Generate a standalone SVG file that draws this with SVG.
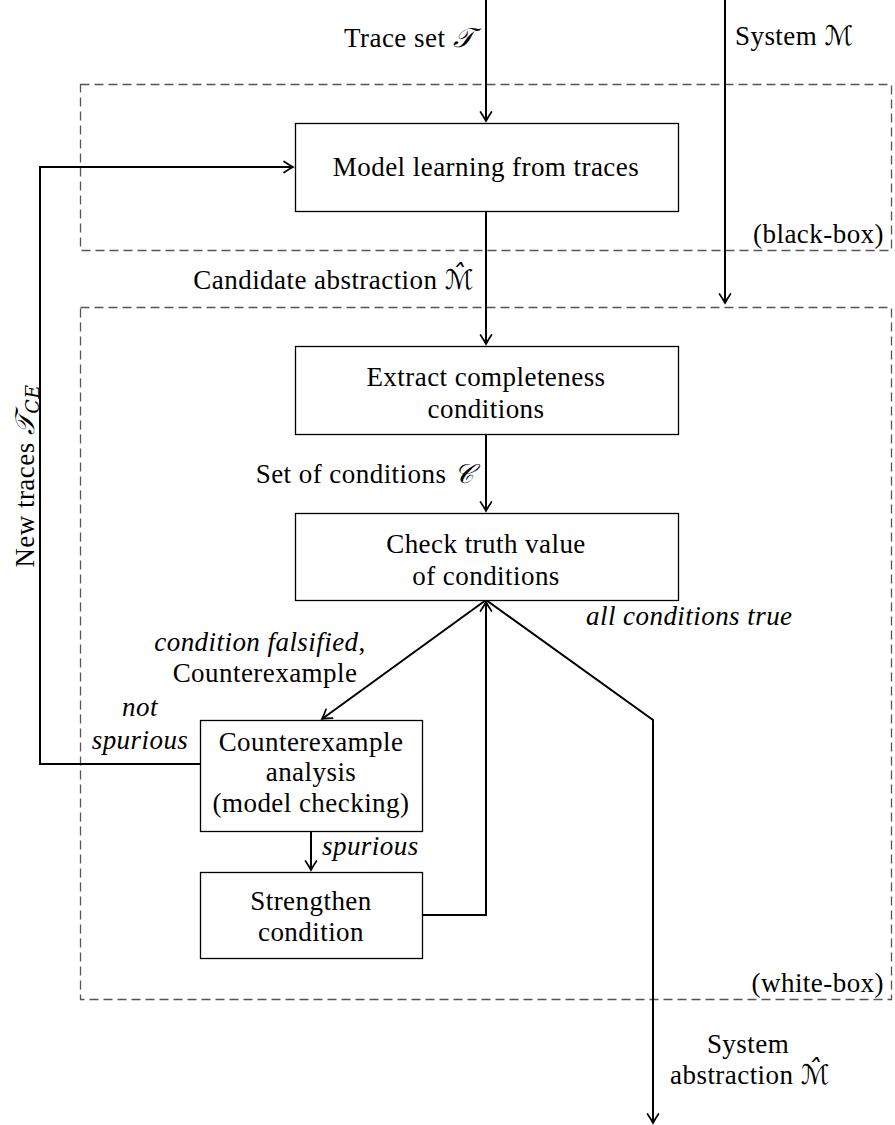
<svg xmlns="http://www.w3.org/2000/svg" width="895" height="1125" viewBox="0 0 895 1125">
<defs>
<marker id="arr" markerWidth="14" markerHeight="14" viewBox="-11 -7 13 14" refX="0" refY="0" orient="auto" markerUnits="userSpaceOnUse">
<path d="M-9,-5.5 Q-3.5,-1.8 0,0 Q-3.5,1.8 -9,5.5" fill="none" stroke="#000" stroke-width="1.7" stroke-linecap="round"/>
</marker>
<style>
text{font-family:"Liberation Serif","DejaVu Serif",serif;font-size:27px;letter-spacing:0.45px;fill:#000}
.it{font-style:italic}
.m{text-anchor:middle}
.e{text-anchor:end}
.box{fill:#fff;stroke:#000;stroke-width:1.3}
.dash{fill:none;stroke:#555;stroke-width:1.3;stroke-dasharray:9 5}
.c{fill:none;stroke:#000;stroke-width:2}
.math{font-family:"DejaVu Serif","DejaVu Sans","Noto Sans",serif;font-style:italic}
</style>
</defs>
<g id="regions">
<rect class="dash" x="80.5" y="84.5" width="811" height="166"/>
<rect class="dash" x="80.5" y="307.5" width="811" height="692"/>
<text class="e" x="884" y="243">(black-box)</text>
<text class="e" x="884" y="992">(white-box)</text>
</g>
<g id="connectors">
<path class="c" d="M486,0 V121" marker-end="url(#arr)"/>
<path class="c" d="M725,0 V303" marker-end="url(#arr)"/>
<path class="c" d="M486,211 V344" marker-end="url(#arr)"/>
<path class="c" d="M486,434 V511" marker-end="url(#arr)"/>
<path class="c" d="M486,600 L322,719" marker-end="url(#arr)"/>
<path class="c" d="M486,600 L653,720 V1123" marker-end="url(#arr)"/>
<path class="c" d="M422,915 H486 V602" marker-end="url(#arr)"/>
<path class="c" d="M311,832 V870" marker-end="url(#arr)"/>
<path class="c" d="M200,764 H40 V167 H293" marker-end="url(#arr)"/>
</g>
<g id="labels">
<text class="e" x="474" y="47">Trace set <tspan class="math">𝒯</tspan></text>
<text x="735" y="45">System <tspan class="math">ℳ</tspan></text>
<text class="e" x="474" y="289">Candidate abstraction <tspan class="math">ℳ̂</tspan></text>
<text class="e" x="474" y="483">Set of conditions <tspan class="math">𝒞</tspan></text>
<text transform="translate(34,476) rotate(-90)" class="m">New traces <tspan class="math">𝒯</tspan><tspan class="math" font-size="19" dy="5">CE</tspan></text>
<text class="m it" x="260" y="651">condition falsified<tspan font-style="normal">,</tspan></text>
<text class="m" x="265" y="682">Counterexample</text>
<text class="it" x="586" y="625">all conditions true</text>
<text class="m it" x="140" y="716">not</text>
<text class="m it" x="140" y="749">spurious</text>
<text class="it" x="322" y="855">spurious</text>
<text class="m" x="748" y="1053">System</text>
<text class="e" x="830" y="1084">abstraction <tspan class="math">ℳ̂</tspan></text>
</g>
<g id="n1">
<rect class="box" x="295.5" y="123.5" width="383" height="88"/>
<text class="m" x="486" y="176">Model learning from traces</text>
</g>
<g id="n2">
<rect class="box" x="295.5" y="346.5" width="383" height="88"/>
<text class="m" x="486" y="386">Extract completeness</text>
<text class="m" x="486" y="418">conditions</text>
</g>
<g id="n3">
<rect class="box" x="295.5" y="513.5" width="383" height="87"/>
<text class="m" x="486" y="553">Check truth value</text>
<text class="m" x="486" y="585">of conditions</text>
</g>
<g id="n4">
<rect class="box" x="200.5" y="720.5" width="222" height="111"/>
<text class="m" x="311" y="751">Counterexample</text>
<text class="m" x="311" y="781">analysis</text>
<text class="m" x="311" y="812">(model checking)</text>
</g>
<g id="n5">
<rect class="box" x="200.5" y="872.5" width="222" height="86"/>
<text class="m" x="311" y="910">Strengthen</text>
<text class="m" x="311" y="941">condition</text>
</g>
</svg>
